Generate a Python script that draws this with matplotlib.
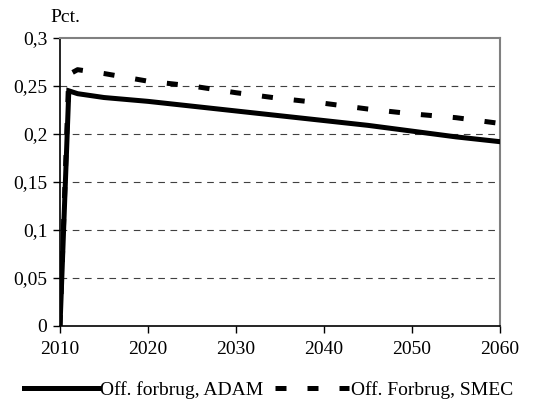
import matplotlib.pyplot as plt
from matplotlib.ticker import FuncFormatter

plt.rcParams['font.family'] = ['Liberation Serif', 'DejaVu Serif']

years = [2010, 2011, 2012, 2015, 2020, 2025, 2030, 2035, 2040, 2045, 2050, 2055, 2060]
adam = [0.0, 0.245, 0.242, 0.238, 0.234, 0.229, 0.224, 0.219, 0.214, 0.209, 0.203, 0.197, 0.192]
smec = [0.0, 0.262, 0.267, 0.263, 0.255, 0.250, 0.243, 0.237, 0.232, 0.226, 0.221, 0.217, 0.211]

yticks = [0, 0.05, 0.1, 0.15, 0.2, 0.25, 0.3]
xticks = [2010, 2020, 2030, 2040, 2050, 2060]

fig = plt.figure(figsize=(5.37, 4.07), dpi=100)
ax = fig.add_axes([60 / 537, 81 / 407, 440 / 537, 288 / 407])

# dashed gridlines, the top one is the frame
for y in yticks[1:-1]:
    ax.axhline(y, color='#404040', lw=0.8, dashes=(6, 5), zorder=1)

ax.plot(years, adam, color='black', lw=3.6, solid_joinstyle='miter',
        label='Off. forbrug, ADAM', zorder=3)
ax.plot(years, smec, color='black', lw=3.6, dashes=(2.2, 4.2),
        dash_capstyle='butt', label='Off. Forbrug, SMEC', zorder=2)

ax.set_xlim(2010, 2060)
ax.set_ylim(0, 0.3)
ax.set_xticks(xticks)
ax.set_yticks(yticks)
ax.yaxis.set_major_formatter(FuncFormatter(lambda v, p: ('%g' % v).replace('.', ',')))
ax.tick_params(direction='out', length=5, width=1, labelsize=14, pad=4)
ax.tick_params(axis='x', pad=6)

for side in ['top', 'right']:
    ax.spines[side].set_color('#808080')
    ax.spines[side].set_linewidth(1.5)
for side in ['left', 'bottom']:
    ax.spines[side].set_color('black')
    ax.spines[side].set_linewidth(1.2)

fig.text(50 / 537, 1 - 18 / 407, 'Pct.', fontsize=14, va='center', ha='left')

fig.legend(loc='center', bbox_to_anchor=(0.5, 1 - 390 / 407), ncol=2, frameon=False,
           fontsize=14, handlelength=3.8, handletextpad=0.1, columnspacing=0.6,
           borderaxespad=0)

fig.savefig('out.png', dpi=100)
